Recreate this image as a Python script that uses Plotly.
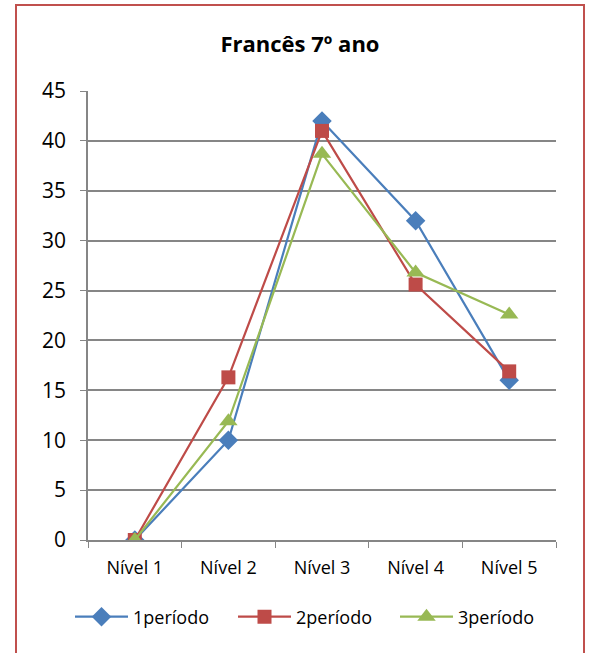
import plotly.graph_objects as go

categories = ["Nível 1", "Nível 2", "Nível 3", "Nível 4", "Nível 5"]
p1 = [0, 10, 42, 32, 16]
p2 = [0, 16.3, 41, 25.6, 16.9]
p3 = [0, 11.9, 38.7, 26.8, 22.6]
series_names = ["1período", "2período", "3período"]
y_ticks = [0, 5, 10, 15, 20, 25, 30, 35, 40, 45]

colors = ["#4A7EBB", "#BE4B48", "#98B954"]
symbols = ["diamond", "square", "triangle-up"]
sizes = [15, 14, 16]
legend_ids = ["legend", "legend2", "legend3"]

fig = go.Figure()
for name, vals, c, s, sz, lg in zip(series_names, [p1, p2, p3], colors, symbols, sizes, legend_ids):
    fig.add_trace(go.Scatter(
        x=categories, y=vals, name=name, mode="lines+markers",
        line=dict(color=c, width=2.2),
        marker=dict(symbol=s, size=sz, color=c),
        legend=lg,
    ))

W, H = 589, 653
L, R, T, B = 88, 33, 91, 113
pw = W - L - R
ph = H - T - B

def px_x(p):
    return (p - L) / pw

def px_y(p):
    return (H - B - p) / ph

def leg(xpx):
    return dict(orientation="h", x=xpx / W, xanchor="left", xref="container",
                y=1 - 617 / H, yref="container", yanchor="middle",
                font=dict(size=18), itemwidth=53, bgcolor="rgba(0,0,0,0)")

fig.update_layout(
    width=W, height=H,
    margin=dict(l=L, r=R, t=T, b=B),
    paper_bgcolor="white", plot_bgcolor="white",
    font=dict(family="Open Sans, Liberation Sans, sans-serif", color="black"),
    title=dict(text="<b>Francês 7º ano</b>", x=300 / W, xanchor="center",
               y=1 - 44 / H, yanchor="middle", font=dict(size=22)),
    xaxis=dict(
        type="category", range=[-0.5, 4.5], showgrid=False,
        showline=True, linecolor="#868686", linewidth=1.5,
        ticks="outside", tickson="boundaries", ticklen=6, tickcolor="#868686",
        tickfont=dict(size=18), ticklabelstandoff=11, automargin=False,
    ),
    yaxis=dict(
        range=[0, 45], tickvals=y_ticks, showgrid=True, gridcolor="#868686", gridwidth=1.5,
        showline=True, linecolor="#868686", linewidth=1.5,
        ticks="outside", ticklen=6, tickcolor="#868686",
        tickfont=dict(size=21), zeroline=False, ticklabelstandoff=10, automargin=False,
    ),
    legend=leg(70),
    legend2=leg(233),
    legend3=leg(395),
    showlegend=True,
)

fig.add_shape(type="rect", xref="paper", yref="paper",
              x0=px_x(16), x1=px_x(584), y0=px_y(670), y1=px_y(5),
              line=dict(color="#C0504D", width=2), fillcolor="rgba(0,0,0,0)", layer="above")

fig.write_html("out.html", post_script="document.body.style.margin='0';",
               config={"displayModeBar": False})
